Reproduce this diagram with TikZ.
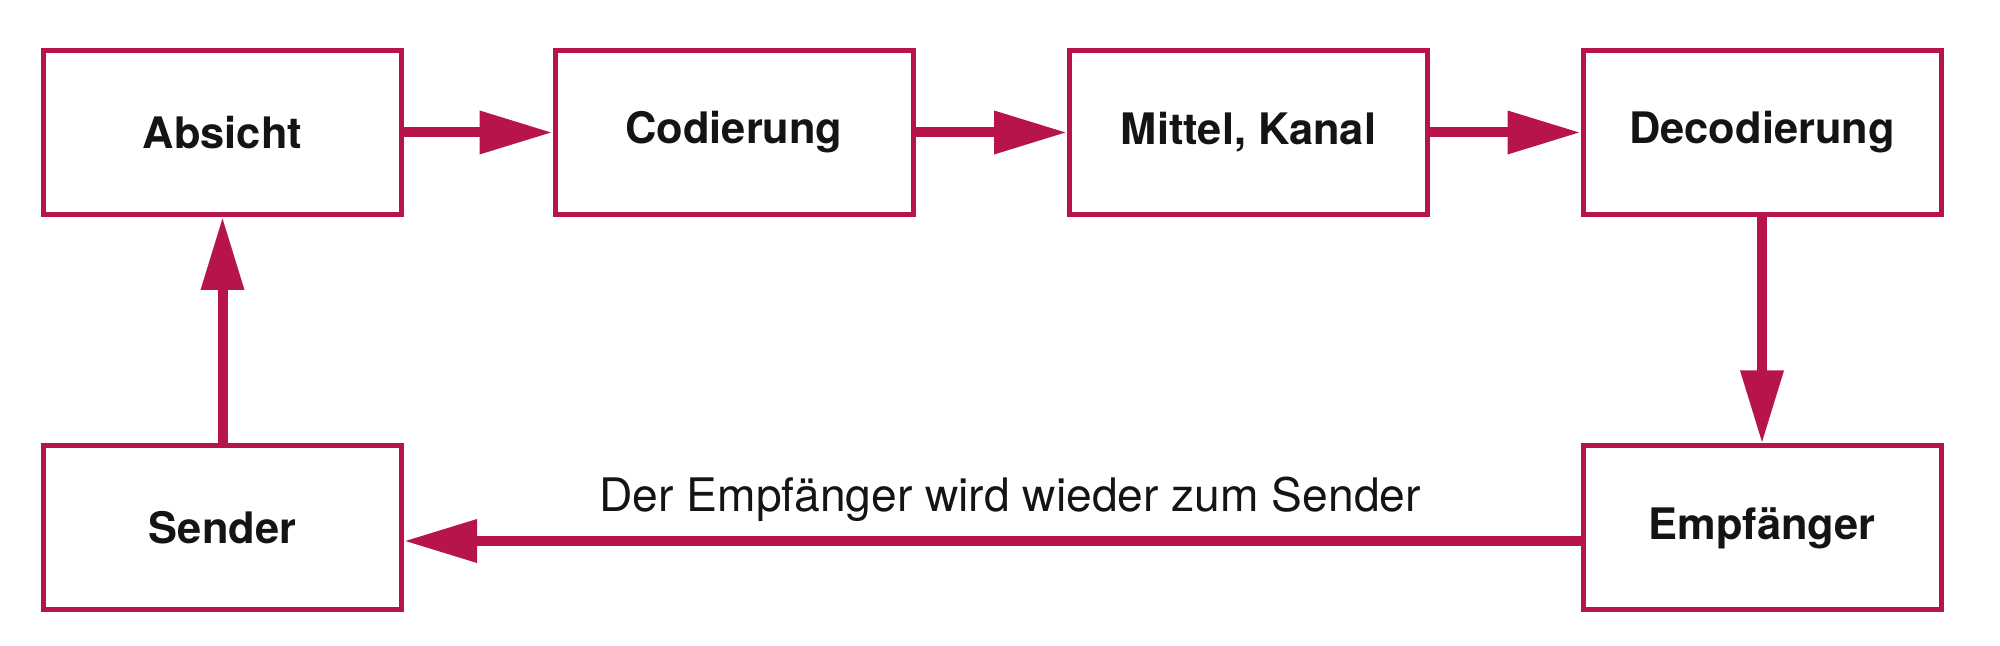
\documentclass[tikz,border=0pt]{standalone}
\usepackage{fontspec}
\setmainfont{TeX Gyre Heros}
\usetikzlibrary{arrows.meta}
\definecolor{crim}{RGB}{183,20,75}
\tikzset{
  box/.style={draw=crim, line width=2.5pt, minimum width=179pt, minimum height=82pt,
    inner sep=0pt, font=\fontsize{21.7}{24}\selectfont\bfseries, text=black!92},
  flow/.style={draw=crim, line width=5pt,
    -{Triangle[length=36.5pt,width=20.5pt]}}
}
\begin{document}
\begin{tikzpicture}
\useasboundingbox (0,0) rectangle (1000pt,323pt);
\node[box] (abs) at (111.25pt,256.75pt) {Absicht};
\node[box] (cod) at (367pt,256.75pt) {Codierung};
\node[box] (mit) at (624.25pt,256.75pt) {Mittel, Kanal};
\node[box] (dec) at (881pt,256.75pt) {Decodierung};
\node[box] (sen) at (111.25pt,59pt) {Sender};
\node[box] (emp) at (881pt,59pt) {Empfänger};
\draw[flow] (abs.east) -- (cod.west);
\draw[flow] (cod.east) -- (mit.west);
\draw[flow] (mit.east) -- (dec.west);
\draw[flow] (dec.south) -- (emp.north);
\draw[flow] (sen.north) -- (abs.south);
\draw[flow] ([yshift=-6.5pt]emp.west) -- ([yshift=-6.5pt]sen.east);
\node[anchor=base, font=\fontsize{23.1}{26}\selectfont, text=black!92] (txt) at (505pt,67pt) {Der Empfänger wird wieder zum Sender};
\end{tikzpicture}
\end{document}
